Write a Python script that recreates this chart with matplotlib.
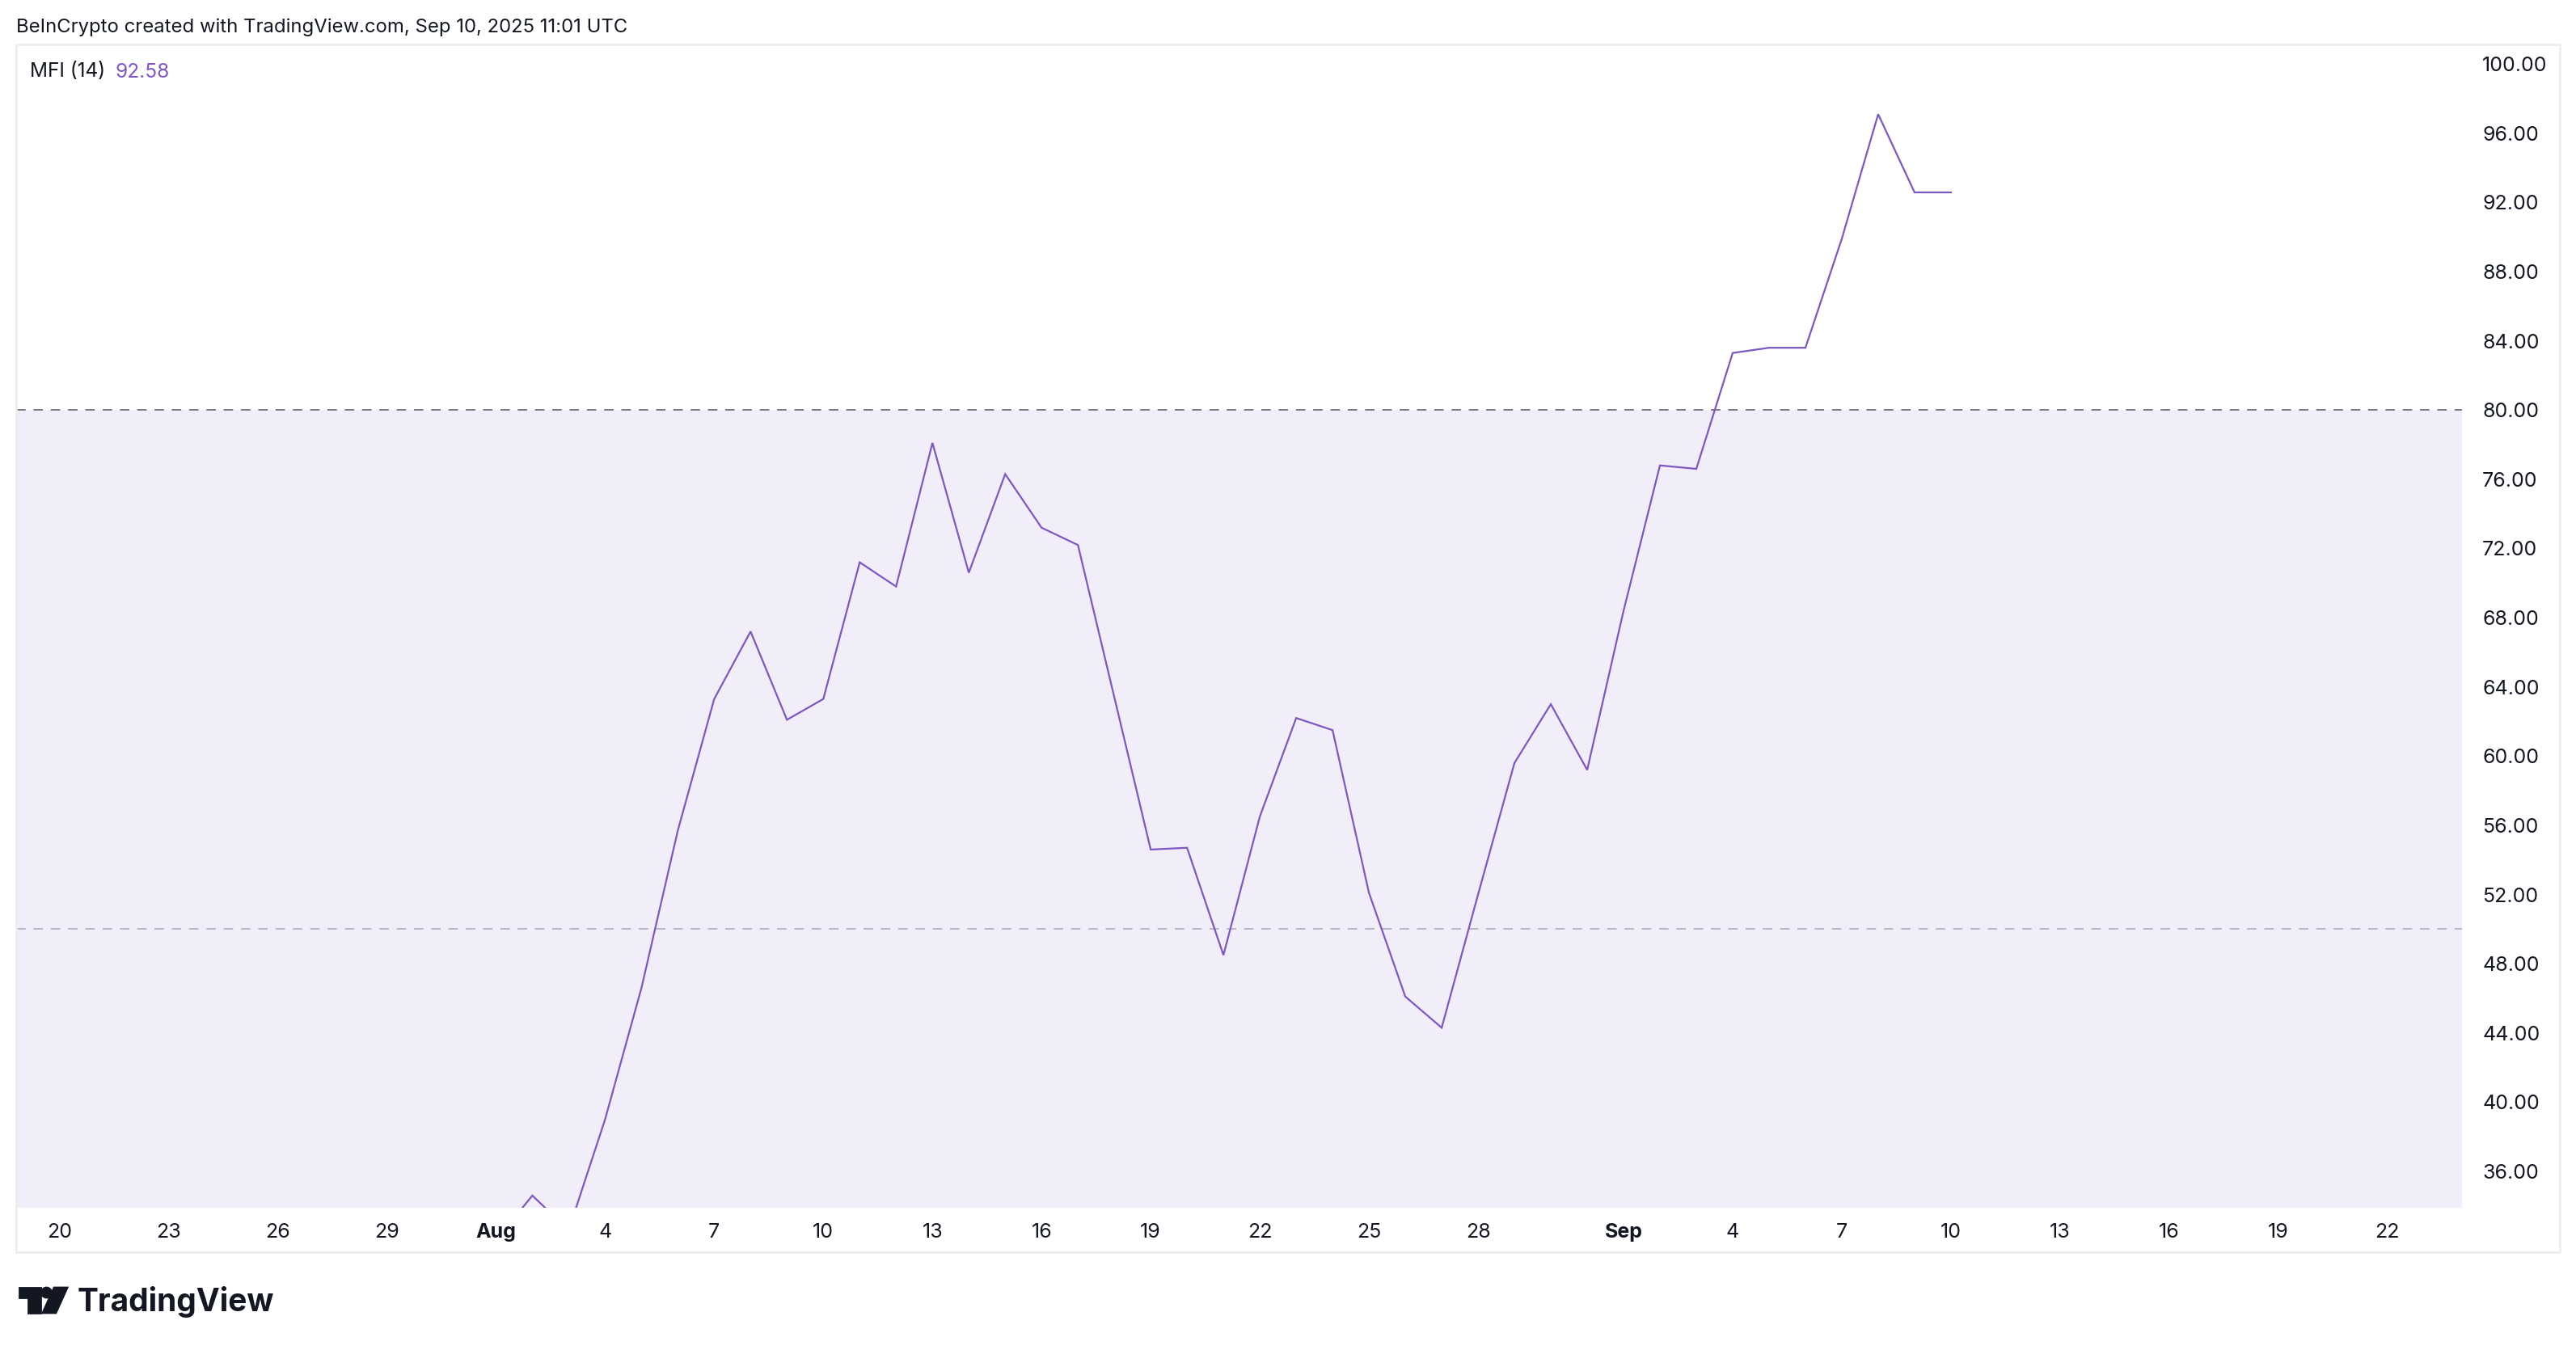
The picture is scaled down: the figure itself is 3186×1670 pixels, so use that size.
import matplotlib
matplotlib.use("Agg")
import matplotlib.pyplot as plt
import matplotlib.dates as mdates
import datetime as dt
from matplotlib.patches import Rectangle, Polygon, Ellipse

# ---------------- data ----------------
dates = ["2025-08-01", "2025-08-02", "2025-08-03", "2025-08-04", "2025-08-05",
         "2025-08-06", "2025-08-07", "2025-08-08", "2025-08-09", "2025-08-10",
         "2025-08-11", "2025-08-12", "2025-08-13", "2025-08-14", "2025-08-15",
         "2025-08-16", "2025-08-17", "2025-08-18", "2025-08-19", "2025-08-20",
         "2025-08-21", "2025-08-22", "2025-08-23", "2025-08-24", "2025-08-25",
         "2025-08-26", "2025-08-27", "2025-08-28", "2025-08-29", "2025-08-30",
         "2025-08-31", "2025-09-01", "2025-09-02", "2025-09-03", "2025-09-04",
         "2025-09-05", "2025-09-06", "2025-09-07", "2025-09-08", "2025-09-09",
         "2025-09-10"]
mfi = [32.0, 34.6, 32.6, 39.0, 46.6,
       55.7, 63.3, 67.2, 62.1, 63.3,
       71.2, 69.8, 78.1, 70.6, 76.3,
       73.2, 72.2, 63.4, 54.6, 54.7,
       48.5, 56.5, 62.2, 61.5, 52.1,
       46.1, 44.3, 52.0, 59.6, 63.0,
       59.2, 68.4, 76.8, 76.6, 83.3,
       83.6, 83.6, 89.9, 97.1, 92.58,
       92.58]
upper_band = 80
middle_band = 50
lower_band = 20
tick_dates = ["2025-07-20", "2025-07-23", "2025-07-26", "2025-07-29", "2025-08-01",
              "2025-08-04", "2025-08-07", "2025-08-10", "2025-08-13", "2025-08-16",
              "2025-08-19", "2025-08-22", "2025-08-25", "2025-08-28", "2025-09-01",
              "2025-09-04", "2025-09-07", "2025-09-10", "2025-09-13", "2025-09-16",
              "2025-09-19", "2025-09-22"]
tick_labels = ["20", "23", "26", "29", "Aug", "4", "7", "10", "13", "16", "19",
               "22", "25", "28", "Sep", "4", "7", "10", "13", "16", "19", "22"]
y_ticks = [36, 40, 44, 48, 52, 56, 60, 64, 68, 72, 76, 80, 84, 88, 92, 96, 100]
header = "BeInCrypto created with TradingView.com, Sep 10, 2025 11:01 UTC"
indicator_name = "MFI (14)"
indicator_value = "92.58"

# ---------------- style ----------------
W, H = 3186, 1670
DPI = 200
plt.rcParams['font.family'] = ['Inter', 'DejaVu Sans']
TXT = "#131722"
PURPLE = "#7E57C2"

fig = plt.figure(figsize=(W / DPI, H / DPI), dpi=DPI)
fig.patch.set_facecolor("white")

def fx(px):
    return px / W

def fy(py):
    return 1 - py / H

# axes area (in pixels)
ax_l, ax_r, ax_t, ax_b = 20, 3045, 55, 1493.5
ax = fig.add_axes([fx(ax_l), fy(ax_b), fx(ax_r - ax_l), (ax_b - ax_t) / H])
ax.set_facecolor("white")

x = [dt.datetime.strptime(d, "%Y-%m-%d") for d in dates]
xt = [dt.datetime.strptime(d, "%Y-%m-%d") for d in tick_dates]

aug1 = mdates.date2num(dt.datetime(2025, 8, 1))
ax.set_xlim(aug1 - 13.19, aug1 + 54.05)
ax.set_ylim(33.92, 101.13)

ax.axhspan(lower_band, upper_band, color="#f1edf9", lw=0, zorder=0)
ax.axhline(upper_band, color="#787b86", lw=0.7, ls=(0, (6, 5)), zorder=1)
ax.axhline(middle_band, color="#b9b4c6", lw=0.7, ls=(0, (6, 5)), zorder=1)
ax.plot(x, mfi, color=PURPLE, lw=0.8, zorder=3, solid_joinstyle="miter")

for s in ax.spines.values():
    s.set_visible(False)

ax.set_xticks(xt)
ax.set_xticklabels(tick_labels)
for lbl, t in zip(ax.get_xticklabels(), tick_labels):
    if t in ("Aug", "Sep"):
        lbl.set_fontweight("bold")
ax.tick_params(axis="x", length=0, pad=7, labelsize=9, labelcolor=TXT)

ax.yaxis.tick_right()
ax.set_yticks(y_ticks)
ax.set_yticklabels([f"{v:.2f}" for v in y_ticks])
ax.tick_params(axis="y", length=0, pad=9.0, labelsize=9, labelcolor=TXT)
ax.grid(False)

# panel border
fig.patches.append(Rectangle((fx(20), fy(1549)), fx(3166 - 20), (1549 - 55) / H,
                             transform=fig.transFigure, fill=False,
                             edgecolor="#eceef2", lw=1.0, zorder=0))

# header texts
fig.text(fx(20), fy(34), header, ha="left", va="center", fontsize=8.6, color=TXT)
fig.text(fx(37), fy(89), indicator_name, ha="left", va="center", fontsize=8.8, color=TXT)
fig.text(fx(143), fy(89), indicator_value, ha="left", va="center", fontsize=8.8, color=PURPLE)

# TradingView logo (icon approximation + wordmark)
LOGO = "#131722"
fig.patches.append(Polygon([(fx(24), fy(1593)), (fx(50), fy(1593)), (fx(50), fy(1624)),
                            (fx(35), fy(1624)), (fx(35), fy(1605)), (fx(24), fy(1605))],
                           closed=True, transform=fig.transFigure, color=LOGO))
fig.patches.append(Ellipse((fx(57.5), fy(1599)), 12 / W, 12 / H,
                           transform=fig.transFigure, color=LOGO))
fig.patches.append(Polygon([(fx(67), fy(1593)), (fx(83), fy(1593)), (fx(69), fy(1624)),
                            (fx(53), fy(1624))],
                           closed=True, transform=fig.transFigure, color=LOGO))
fig.text(fx(96), fy(1610), "TradingView", ha="left", va="center", fontsize=14.0,
         fontweight="bold", color=LOGO)

fig.savefig("out.png", dpi=DPI, facecolor="white")
